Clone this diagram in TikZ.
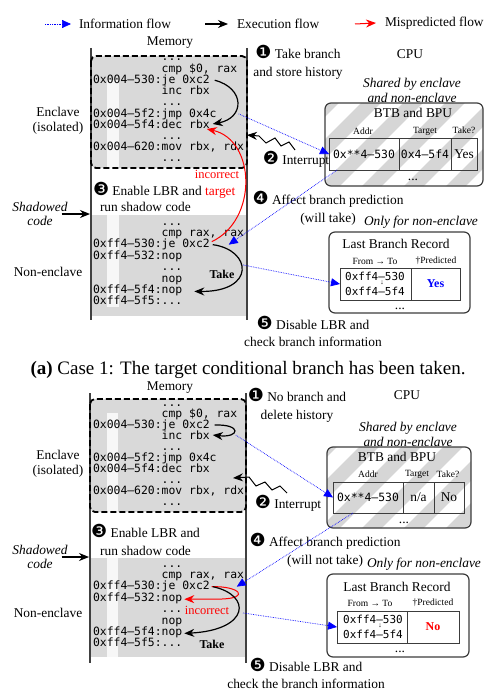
\documentclass[tikz,border=0pt]{standalone}
\usepackage{fontspec}
\setmainfont{Liberation Serif}
\setmonofont{DejaVu Sans Mono}
\newfontfamily\dingfont{DejaVu Sans}
\usetikzlibrary{arrows.meta}
\definecolor{memgray}{RGB}{217,217,217}
\definecolor{stripegray}{RGB}{214,214,214}
\definecolor{boxgray}{RGB}{60,60,60}
\newcommand{\stepno}[1]{{\dingfont\fontsize{18}{12}\selectfont #1}}
\newcommand{\skipped}{...}

\begin{document}
\begin{tikzpicture}[x=1pt,y=-1pt,inner sep=0pt,outer sep=0pt,
	every node/.style={font=\fontsize{13.4}{14.5}\selectfont},
	code/.style={font=\fontsize{11.4}{11}\selectfont\ttfamily,anchor=base west},
	addr/.style={font=\fontsize{11.4}{11}\selectfont\ttfamily,anchor=base east},
	cellcode/.style={font=\fontsize{11.4}{11}\selectfont\ttfamily},
	lbrcode/.style={font=\fontsize{11}{11}\selectfont\ttfamily},
	hdr/.style={font=\fontsize{9.5}{10}\selectfont},
	note/.style={font=\fontsize{13.4}{15}\selectfont\itshape,align=center},
	stepnote/.style={font=\fontsize{13.4}{17.5}\selectfont,align=center},
	memline/.style={line width=1.4pt,black!75},
	enclave/.style={draw,dash pattern=on 6pt off 3pt,line width=1.8pt,rounded corners=5pt},
	unitbox/.style={draw=boxgray,line width=1.2pt,rounded corners=6pt},
	cell/.style={draw=boxgray,line width=1pt,minimum height=32pt},
	infoflow/.style={blue,densely dotted,line width=0.7pt,-{Triangle[length=9pt,width=8pt]}},
	execflow/.style={line width=1.2pt,-{Stealth[length=10pt,width=8pt]}},
	missflow/.style={red,line width=1pt,-{Stealth[length=10pt,width=8pt]}}]
	\useasboundingbox (0,0) rectangle (499,693);

	% legend
	\draw (79,24) node[anchor=west] (leginfo) {Information flow};
	\draw (237,24) node[anchor=west] (legexec) {Execution flow};
	\draw (385,23) node[anchor=west] (legmiss) {Mispredicted flow};
	\draw[infoflow] (45,24) -- ([xshift=-8pt]leginfo.west);
	\draw[execflow] (205,24) -- ([xshift=-9pt]legexec.west);
	\draw[missflow] (355,24) -- ([xshift=-9pt]legmiss.west);

	% ---------------- case 1 ----------------
	\fill[memgray] (91,215) rectangle (247,316);
	\fill[memgray,rounded corners=5pt] (91,56) rectangle (247,168);
	\fill[white,opacity=.8] (107,80) rectangle (119,307);
	\draw[memline] (91,48) -- (91,320);
	\draw[memline] (247,48) -- (247,320);
	\draw[enclave] (91,56) rectangle (247,168);
	\draw (170,43) node (mem1) {Memory};
	\draw (58,121) node[align=center] (encl1) {Enclave\\(isolated)};
	\draw (48,272) node (nonencl1) {Non-enclave};
	\draw (40,214) node[note,font=\fontsize{13.4}{14}\selectfont\itshape] (shad1) {Shadowed\\code};
	\coordinate (memin1) at (90,214);
	\draw[execflow] ([xshift=-6pt]shad1.east) -- (memin1);

	\foreach \i/\ad/\ins in {0//\skipped,1//{cmp \$0, rax},2/{0x004–530:}/{je 0xc2},3//{inc rbx},4//\skipped,
		5/{0x004–5f2:}/{jmp 0x4c},6/{0x004–5f4:}/{dec rbx},7//\skipped,8/{0x004–620:}/{mov rbx, rdx},9//\skipped}
		\draw (161.7,61+11.2*\i) node[code] (ea\i) {\ins} node[addr] (eaa\i) {\ad};
	\foreach \i/\ad/\ins in {0//\skipped,1//{cmp rax, rax},2/{0xff4–530:}/{je 0xc2},3/{0xff4–532:}/nop,4//\skipped,
		5//nop,6/{0xff4–5f4:}/nop,7/{0xff4–5f5:}/\skipped}
		\draw (161.7,225+11.4*\i) node[code] (na\i) {\ins} node[addr] (naa\i) {\ad};

	\draw (93,190) node[anchor=west] (step3a) {\stepno{❸} Enable LBR and \textcolor{red}{target}};
	\draw (100,207) node[anchor=west] (step3b) {run shadow code};
	\draw (217,174) node[text=red,font=\fontsize{12.5}{13}\selectfont] (wrong1) {incorrect};
	\draw (222,274) node[font=\fontsize{12}{12}\selectfont\bfseries] (take1) {Take};

	\draw (298,62.5) node[stepnote] (step1) {\stepno{❶} Take branch\\and store history};
	\draw (410,54) node (cpu1) {CPU};
	\draw (412,90) node[note] (shared1) {Shared by enclave\\and non-enclave};

	% BTB and BPU
	\begin{scope}
		\clip[rounded corners=6pt] (325,103) rectangle (483,186);
		\foreach \s in {236,278,...,490}
			\draw[stripegray,line width=14pt] (\s,196) -- ++(100,-100);
	\end{scope}
	\draw[unitbox] (325,103) rectangle (483,186);
	\draw (413,113) node (btbt1) {BTB and BPU};
	\draw (363,131) node[hdr] (haddr1) {Addr};
	\draw (425,131) node[hdr] (htgt1) {Target};
	\draw (464,130) node[hdr] (htake1) {Take?};
	\draw (364,154) node[cell,cellcode,minimum width=70pt] (btba1) {0x**4–530};
	\draw (425,154) node[cell,cellcode,minimum width=52pt] (btbt1c) {0x4–5f4};
	\draw (464,154) node[cell,minimum width=26pt] (btbk1) {Yes};
	\draw (413,180) node[anchor=base] (btbdots1) {\skipped};

	\coordinate (irq1) at (295,150);
	\draw[execflow,line width=1pt] (irq1) -- (289,142) -- (281,146) -- (275,138) -- (266,143) -- (259,136) -- (247,135);
	\draw (296,159) node (step2) {\stepno{❷} Interrupt};

	\draw (328,208.5) node[stepnote] (step4) {\stepno{❹} Affect branch prediction\\(will take)};
	\draw (421,222) node[font=\fontsize{13.4}{14}\selectfont\itshape] (only1) {Only for non-enclave};

	% Last Branch Record
	\draw[unitbox,fill=white] (329,232) rectangle (470,313);
	\draw (396,244) node (lbrt1) {Last Branch Record};
	\draw (375,261) node[hdr] (hft1) {From → To};
	\draw (436,261) node[hdr] (hpred1) {†Predicted};
	\draw (375.5,284) node[cell,minimum width=71pt] (lbrf1) {};
	\draw (435.5,284) node[cell,minimum width=49pt,font=\fontsize{12}{12}\selectfont\bfseries,text=blue] (lbrp1) {Yes};
	\draw (375,276) node[lbrcode] (lbrfrom1) {0xff4–530};
	\draw (375,291) node[lbrcode] (lbrto1) {0xff4–5f4};
	\draw (382,283) node[font=\fontsize{7}{7}\selectfont] (lbrarr1) {↓};
	\draw (400,309) node[anchor=base] (lbrdots1) {\skipped};

	\draw (313,331.5) node[stepnote] (step5) {\stepno{❺} Disable LBR and\\check branch information};
	\draw (248,370) node[font=\fontsize{19}{22}\selectfont] (capa) {\textbf{(a)} Case 1: The target conditional branch has been taken.};

	% flows (a)
	\draw[execflow] ([xshift=5pt]ea2.east) .. controls (245,88) and (245,118) .. ([xshift=3pt]ea6.east);
	\draw[missflow] ([xshift=2pt,yshift=3pt]na2.east) .. controls (258,220) and (256,140) .. ([xshift=-3pt,yshift=-5pt]ea6.east);
	\draw[execflow] ([xshift=3pt]na2.east) .. controls (252,250) and (256,292) .. ([xshift=12pt]na6.east);
	\draw[infoflow] ([xshift=22pt]ea5.east) -- (btba1.west);
	\draw[infoflow] ([xshift=8pt]btba1.south west) -- ([xshift=19pt]na2.east);
	\coordinate (lbrsrc1) at (243,265);
	\draw[infoflow] (lbrsrc1) -- (lbrf1.west);

	% ---------------- case 2 ----------------
	\fill[memgray] (90,558) rectangle (246,657);
	\fill[memgray,rounded corners=5pt] (90,399) rectangle (246,512);
	\fill[white,opacity=.8] (107,413) rectangle (118,657);
	\draw[memline] (90,393) -- (90,663);
	\draw[memline] (246,393) -- (246,663);
	\draw[enclave] (90,399) rectangle (246,512);
	\draw (170,388) node (mem2) {Memory};
	\draw (58,464) node[align=center] (encl2) {Enclave\\(isolated)};
	\draw (48,613) node (nonencl2) {Non-enclave};
	\draw (40,557) node[note,font=\fontsize{13.4}{14}\selectfont\itshape] (shad2) {Shadowed\\code};
	\coordinate (memin2) at (89,557);
	\draw[execflow] ([xshift=-6pt]shad2.east) -- (memin2);

	\foreach \i/\ad/\ins in {0//\skipped,1//{cmp \$0, rax},2/{0x004–530:}/{je 0xc2},3//{inc rbx},4//\skipped,
		5/{0x004–5f2:}/{jmp 0x4c},6/{0x004–5f4:}/{dec rbx},7//\skipped,8/{0x004–620:}/{mov rbx, rdx},9//\skipped}
		\draw (161.7,406+11.1*\i) node[code] (eb\i) {\ins} node[addr] (eba\i) {\ad};
	\foreach \i/\ad/\ins in {0//\skipped,1//{cmp rax, rax},2/{0xff4–530:}/{je 0xc2},3/{0xff4–532:}/nop,4//\skipped,
		5//nop,6/{0xff4–5f4:}/nop,7/{0xff4–5f5:}/\skipped}
		\draw (161.7,567+11.4*\i) node[code] (nb\i) {\ins} node[addr] (nba\i) {\ad};

	\draw (145.5,540) node[stepnote] (step3c) {\stepno{❸} Enable LBR and\\run shadow code};
	\draw (207,610) node[text=red,font=\fontsize{12.5}{13}\selectfont] (wrong2) {incorrect};
	\draw (212,644) node[font=\fontsize{12}{12}\selectfont\bfseries] (take2) {Take};

	\draw (297,405.5) node[stepnote] (step1c) {\stepno{❶} No branch and\\delete history};
	\draw (407,395) node (cpu2) {CPU};
	\draw (408,434) node[note] (shared2) {Shared by enclave\\and non-enclave};

	% BTB and BPU
	\begin{scope}
		\clip[rounded corners=6pt] (327,447) rectangle (471,528);
		\foreach \s in {236,278,...,490}
			\draw[stripegray,line width=14pt] (\s,538) -- ++(100,-100);
	\end{scope}
	\draw[unitbox] (327,447) rectangle (471,528);
	\draw (397,457) node (btbt2) {BTB and BPU};
	\draw (368,474) node[hdr] (haddr2) {Addr};
	\draw (417,474) node[hdr] (htgt2) {Target};
	\draw (448,474) node[hdr] (htake2) {Take?};
	\draw (368,497.5) node[cell,cellcode,minimum width=70pt,minimum height=31pt] (btba2) {0x**4–530};
	\draw (418.5,497.5) node[cell,minimum width=31pt,minimum height=31pt] (btbt2c) {n/a};
	\draw (449,497.5) node[cell,minimum width=30pt,minimum height=31pt] (btbk2) {No};
	\draw (404,523) node[anchor=base] (btbdots2) {\skipped};

	\coordinate (irq2) at (287,493);
	\draw[execflow,line width=1pt] (irq2) -- (280,486) -- (272,490) -- (265,482) -- (256,486) -- (249,477) -- (233,478);
	\draw (288,503) node (step2c) {\stepno{❷} Interrupt};

	\draw (325,550.5) node[stepnote] (step4c) {\stepno{❹} Affect branch prediction\\(will not take)};
	\draw (424,564) node[font=\fontsize{13.4}{14}\selectfont\itshape] (only2) {Only for non-enclave};

	% Last Branch Record
	\draw[unitbox,fill=white] (327,574) rectangle (469,657);
	\draw (397,587) node (lbrt2) {Last Branch Record};
	\draw (370,603) node[hdr] (hft2) {From → To};
	\draw (433,603) node[hdr] (hpred2) {†Predicted};
	\draw (372,627) node[cell,minimum width=70pt] (lbrf2) {};
	\draw (433,627) node[cell,minimum width=52pt,font=\fontsize{12}{12}\selectfont\bfseries,text=red] (lbrp2) {No};
	\draw (373,619) node[lbrcode] (lbrfrom2) {0xff4–530};
	\draw (373,634) node[lbrcode] (lbrto2) {0xff4–5f4};
	\draw (380,626) node[font=\fontsize{7}{7}\selectfont] (lbrarr2) {↓};
	\draw (400,652) node[anchor=base] (lbrdots2) {\skipped};

	\draw (306,673.5) node[stepnote] (step5c) {\stepno{❺} Disable LBR and\\check the branch information};

	% flows (b)
	\draw[execflow] ([xshift=5pt]eb2.east) .. controls (242,424) and (240,438) .. ([xshift=3pt]eb3.east);
	\draw[missflow] ([xshift=2pt]nb2.east) .. controls (240,586) and (250,598) .. (222,599) -- ([xshift=2pt]nb3.east);
	\draw[execflow] ([xshift=3pt]nb2.east) .. controls (252,595) and (250,630) .. ([xshift=2pt]nb6.east);
	\draw[infoflow] ([xshift=26pt]eb3.east) -- (btba2.west);
	\draw[infoflow] ([xshift=20pt]btba2.south west) -- ([xshift=27pt]nb2.east);
	\coordinate (lbrsrc2) at (243,613);
	\draw[infoflow] (lbrsrc2) -- (lbrf2.west);
\end{tikzpicture}
\end{document}
